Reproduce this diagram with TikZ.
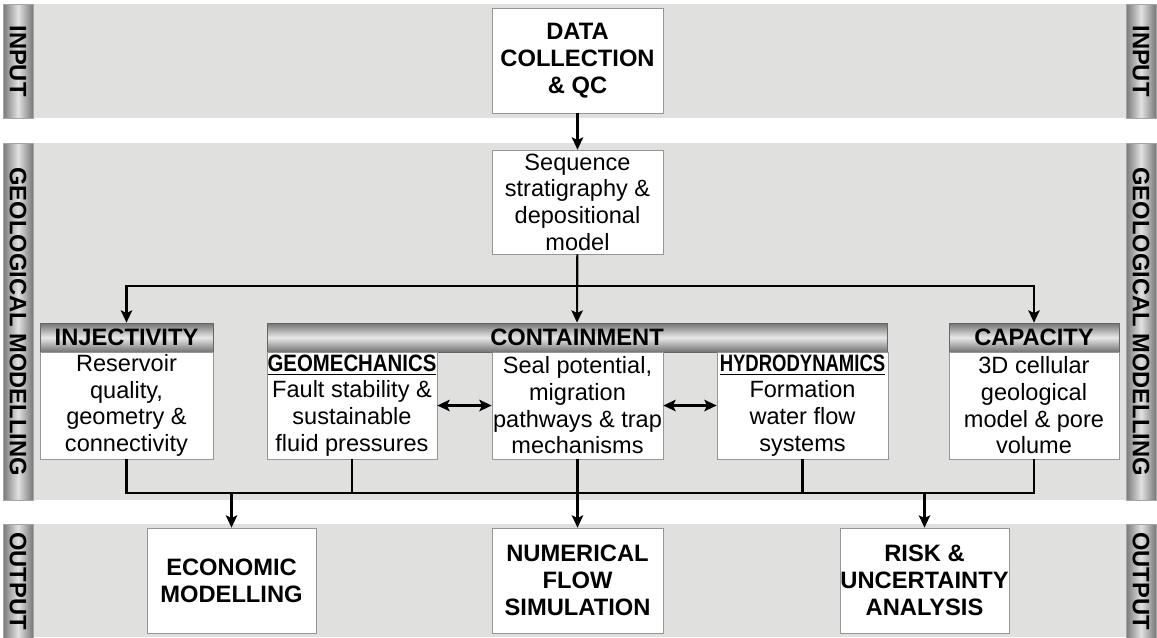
\documentclass[tikz,border=0pt]{standalone}
\usepackage{fontspec}
\setmainfont{Liberation Sans}
\usetikzlibrary{arrows.meta, positioning, calc}

\definecolor{bandgray}{RGB}{224,224,222}
\definecolor{tabdark}{RGB}{120,120,120}
\definecolor{tablight}{RGB}{225,225,225}
\definecolor{headdark}{RGB}{115,115,115}
\definecolor{headlight}{RGB}{232,232,232}
\definecolor{boxline}{RGB}{150,150,150}

% condensed underlined sub-title
\newcommand{\subhead}[2]{\underline{\scalebox{#1}[1]{\bfseries\fontsize{13.5}{15.2}\selectfont #2}}}

\begin{document}
\begin{tikzpicture}[x=0.02cm, y=-0.02cm,
  txt/.style={font=\fontsize{13.4}{15.2}\selectfont},
  bold/.style={font=\bfseries\fontsize{13.5}{15.2}\selectfont},
  box/.style={draw=boxline, fill=white, align=center, inner sep=0pt, txt},
  headbar/.style={draw=gray!80!black, top color=headdark, bottom color=headdark,
    middle color=headlight, inner sep=0pt, bold},
  band/.style={fill=bandgray, draw=none},
  tab/.style={draw=gray!70, left color=tabdark, right color=tabdark, middle color=tablight},
  tablabel/.style={rotate=-90, bold},
  link/.style={line width=1.2pt},
  tip/.style={-{Stealth[length=7pt, width=6.5pt, inset=1.5pt]}},
  both/.style={{Stealth[length=7pt, width=6.5pt, inset=1.5pt]}-{Stealth[length=7pt, width=6.5pt, inset=1.5pt]}}]
  \useasboundingbox (0,0) rectangle (1157,637);

  % bands
  \fill[band] (33,4) rectangle (1126,118);
  \fill[band] (33,143) rectangle (1126,500);
  \fill[band] (33,524) rectangle (1126,637);

  % side tabs
  \foreach \xa/\xb in {3/33, 1126/1156} {
    \shade[tab] (\xa,4) rectangle (\xb,118);
    \shade[tab] (\xa,143) rectangle (\xb,500);
    \shade[tab] (\xa,524) rectangle (\xb,645);
  }
  \node[tablabel] (inL) at (18,61) {INPUT};
  \node[tablabel] (inR) at (1141,61) {INPUT};
  \node[tablabel] (geoL) at (18,321.5) {GEOLOGICAL MODELLING};
  \node[tablabel] (geoR) at (1141,321.5) {GEOLOGICAL MODELLING};
  \node[tablabel] (outL) at (18,581) {OUTPUT};
  \node[tablabel] (outR) at (1141,581) {OUTPUT};

  % input
  \node[box, bold, minimum width=3.42cm, minimum height=2.1cm] (data) at (577.5,60.5)
    {DATA\\COLLECTION\\\& QC};
  \node[box, minimum width=3.42cm, minimum height=2.08cm] (seq) at (577.5,202)
    {Sequence\\stratigraphy \&\\depositional\\model};

  % headers
  \node[headbar, minimum width=3.46cm, minimum height=0.58cm] (injh) at (126.5,337.5) {INJECTIVITY};
  \node[headbar, minimum width=12.4cm, minimum height=0.58cm] (conth) at (577,337.5) {CONTAINMENT};
  \node[headbar, minimum width=3.4cm, minimum height=0.58cm] (caph) at (1034,337.5) {CAPACITY};

  % geological modelling boxes
  \node[box, minimum width=3.46cm, minimum height=2.14cm] (inj) at (126.5,405.5)
    {Reservoir\\quality,\\geometry \&\\connectivity};
  \node[box, minimum width=3.4cm, minimum height=2.14cm] (geo) at (352,405.5)
    {\subhead{0.86}{GEOMECHANICS}\\Fault stability \&\\sustainable\\fluid pressures};
  \node[box, minimum width=3.42cm, minimum height=2.14cm] (seal) at (577.5,405.5)
    {Seal potential,\\migration\\pathways \& trap\\mechanisms};
  \node[box, minimum width=3.42cm, minimum height=2.14cm] (hydro) at (802.5,405.5)
    {\subhead{0.78}{HYDRODYNAMICS}\\Formation\\water flow\\systems};
  \node[box, minimum width=3.4cm, minimum height=2.14cm] (cap) at (1034,405.5)
    {3D cellular\\geological\\model \& pore\\volume};

  % output
  \node[box, bold, minimum width=3.38cm, minimum height=2.1cm] (econ) at (231.5,580.5)
    {ECONOMIC\\MODELLING};
  \node[box, bold, minimum width=3.42cm, minimum height=2.1cm] (num) at (577.5,580.5)
    {NUMERICAL\\FLOW\\SIMULATION};
  \node[box, bold, minimum width=3.38cm, minimum height=2.1cm] (risk) at (924.5,580.5)
    {RISK \&\\UNCERTAINTY\\ANALYSIS};

  % connectors
  \coordinate (split) at (577.5,286);
  \coordinate (bus) at (0,493);
  \draw[tip, link] (data) -- (seq);
  \draw[tip, link] (seq) -- (conth);
  \draw[tip, link] (split) -| (injh);
  \draw[tip, link] (split) -| (caph);
  \draw[both, link] (geo) -- (seal);
  \draw[both, link] (seal) -- (hydro);
  \draw[link] (inj.south) -- (inj.south |- bus) -| (cap.south);
  \foreach \n in {geo, hydro}
    \draw[link] (\n.south) -- (\n.south |- bus);
  \draw[tip, link] (seal) -- (num);
  \draw[tip, link] (econ.north |- bus) -- (econ);
  \draw[tip, link] (risk.north |- bus) -- (risk);
\end{tikzpicture}
\end{document}
